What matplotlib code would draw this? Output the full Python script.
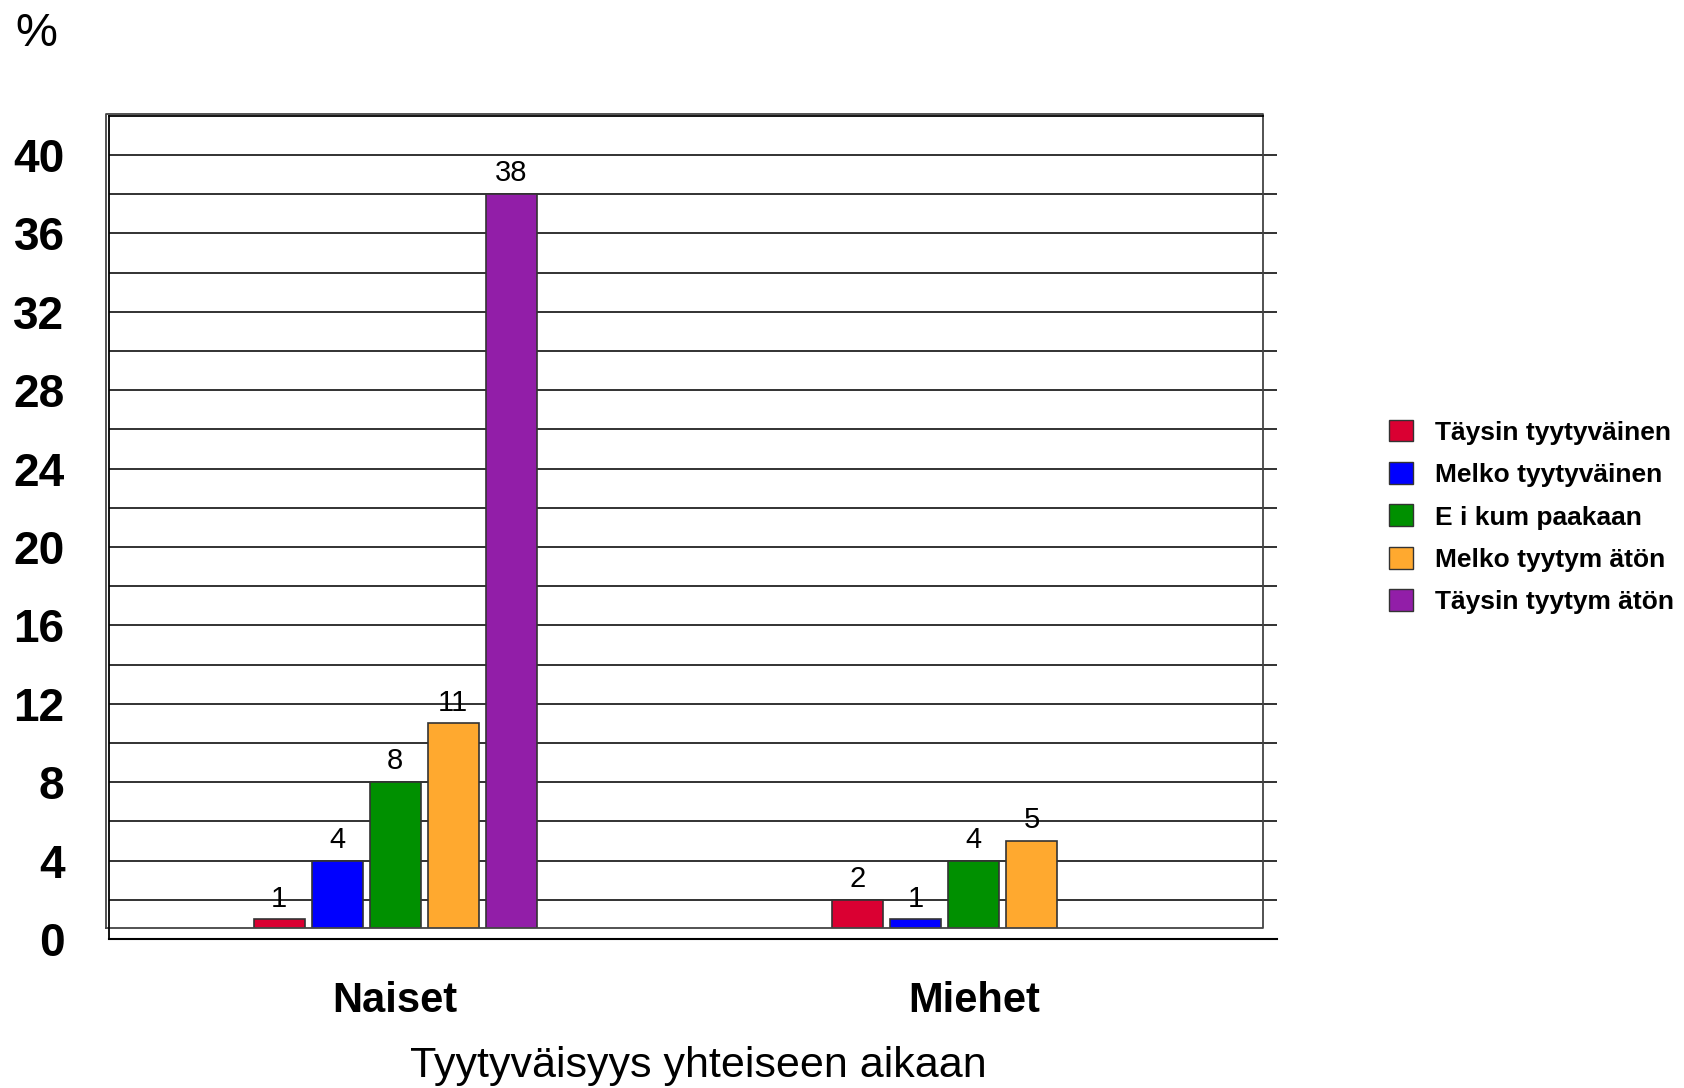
import matplotlib.pyplot as plt
from matplotlib.patches import Patch, Rectangle
import numpy as np

plt.rcParams['font.family'] = ['Liberation Sans', 'DejaVu Sans']

# data
groups = ['Naiset', 'Miehet']
series = ['Täysin tyytyväinen', 'Melko tyytyväinen', 'Ei kumpaakaan',
          'Melko tyytymätön', 'Täysin tyytymätön']
legend_labels = ['Täysin tyytyväinen', 'Melko tyytyväinen', 'E i kum paakaan',
                 'Melko tyytym ätön', 'Täysin tyytym ätön']
values = {
    'Täysin tyytyväinen': [1, 2],
    'Melko tyytyväinen': [4, 1],
    'Ei kumpaakaan': [8, 4],
    'Melko tyytymätön': [11, 5],
    'Täysin tyytymätön': [38, 0],
}
colors = ['#DA0032', '#0000FF', '#009000', '#FFA92F', '#921EA8']
yticks = list(range(0, 41, 4))

fig = plt.figure(figsize=(16.84, 10.88), dpi=100)
ax = fig.add_axes([109/1684, 1 - 939/1088, (1277 - 109)/1684, (939 - 113)/1088])
ymax = (939 - 113) / 19.6
ax.set_ylim(0, ymax)
ax.set_xlim(-0.5 + 3/578.5, -0.5 + 1171/578.5)
for s in ax.spines.values():
    s.set_visible(False)

# gridlines every 2
for g in range(2, 42, 2):
    ax.axhline(g, color='#222222', lw=1.3, zorder=1)

x = np.arange(len(groups))
width = 0.088
step = 0.1003
for i, (name, c) in enumerate(zip(series, colors)):
    vals = values[name]
    xs = x + (i - 2) * step
    for xi, v in zip(xs, vals):
        if v <= 0:
            continue
        ax.bar(xi, v, width=width, color=c, edgecolor='#333333', linewidth=1.2, zorder=2)
        ax.text(xi, v + 0.35, str(v), ha='center', va='bottom', fontsize=21, zorder=5)

# floor and walls (pseudo 3D look)
floor = 11 / 19.6
ax.add_patch(Rectangle((-0.5, 0), 2.1, floor, facecolor='white', edgecolor='none', zorder=3))
ax.plot([-0.5, 1.5, 1.5, -0.5, -0.5], [floor, floor, 42.1, 42.1, floor],
        color='#444444', lw=1.3, zorder=4, clip_on=False)
x0 = ax.get_xlim()[0]
ax.plot([x0, x0], [0, 42], color='black', lw=1.3, zorder=4, clip_on=False)
ax.plot([x0, 1.5], [42, 42], color='black', lw=1.3, zorder=4, clip_on=False)
ax.plot([x0, ax.get_xlim()[1]], [0, 0], color='black', lw=1.5, zorder=4, clip_on=False)

ax.set_yticks(yticks)
ax.set_yticklabels([str(t) for t in yticks], fontsize=33, fontweight='bold')
ax.set_xticks(x)
ax.set_xticklabels(groups, fontsize=30, fontweight='bold')
ax.tick_params(axis='y', length=0, pad=32)
ax.tick_params(axis='x', length=0, pad=30)

fig.text(15/1684, 1 - 12/1088, '%', fontsize=34, ha='left', va='top')
fig.text(698/1684, 1 - 1066/1088, 'Tyytyväisyys yhteiseen aikaan', fontsize=31,
         ha='center', va='center')

handles = [Patch(facecolor=c, edgecolor='#333333', linewidth=1) for c in colors]
fig.legend(handles, legend_labels, loc='center left', bbox_to_anchor=(1389/1684, 1 - 517/1088),
           frameon=False, handlelength=0.9, handleheight=0.9, handletextpad=0.85,
           labelspacing=0.66, borderaxespad=0, borderpad=0,
           prop={'size': 19, 'weight': 'bold'})

fig.savefig('out.png', dpi=100)
